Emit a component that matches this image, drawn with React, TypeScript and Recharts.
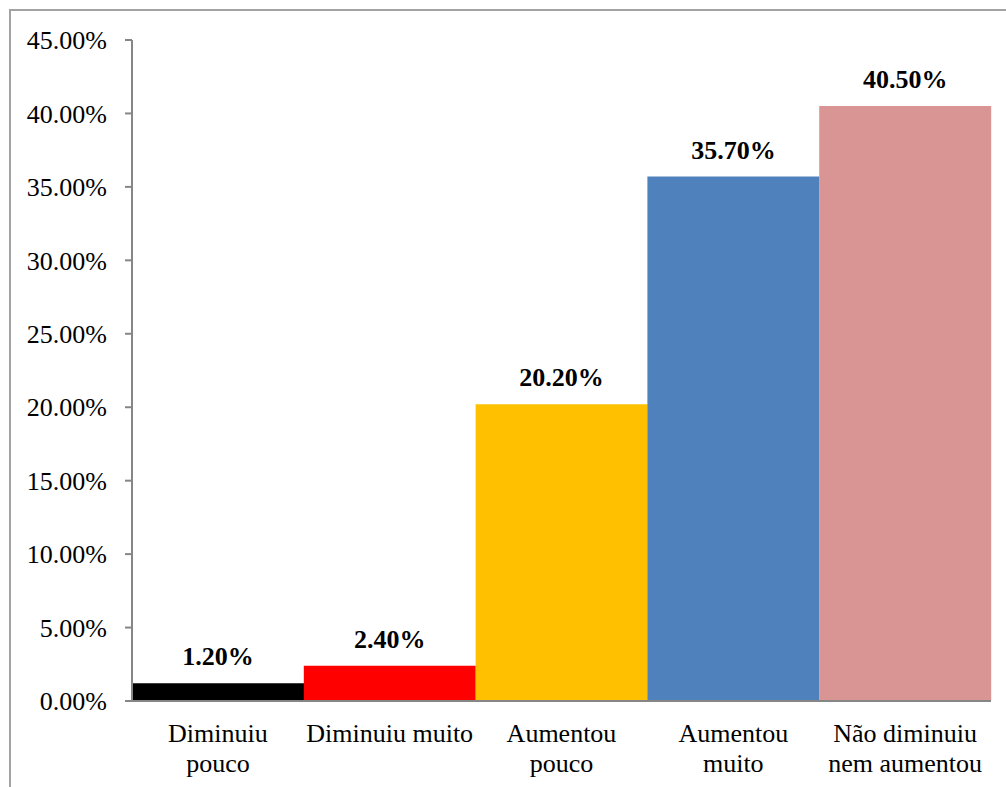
import React from 'react';
import { BarChart, Bar, XAxis, YAxis, Cell, LabelList } from 'recharts';

const categories = ['Diminuiu pouco', 'Diminuiu muito', 'Aumentou pouco', 'Aumentou muito', 'Não diminuiu nem aumentou'];
const categoryLines: string[][] = [
  ['Diminuiu', 'pouco'],
  ['Diminuiu muito'],
  ['Aumentou', 'pouco'],
  ['Aumentou', 'muito'],
  ['Não diminuiu', 'nem aumentou'],
];
const values = [1.2, 2.4, 20.2, 35.7, 40.5];
const colors = ['#000000', '#FF0000', '#FFC000', '#4F81BD', '#D99594'];
const yTicks = [0, 5, 10, 15, 20, 25, 30, 35, 40, 45];

const data = categories.map((c, i) => ({ name: c, lines: categoryLines[i], value: values[i] }));

const FONT = '"Liberation Serif", "Times New Roman", serif';
const fmt = (v: number) => `${Number(v).toFixed(2)}%`;

const CategoryTick = (props: any) => {
  const { x, y, index } = props;
  const lines = categoryLines[index] || [];
  return (
    <text x={x} y={y} textAnchor="middle" fontFamily={FONT} fontSize={26} fill="#000">
      {lines.map((l, i) => (
        <tspan key={i} x={x} y={y + 41 + i * 30}>
          {l}
        </tspan>
      ))}
    </text>
  );
};

export default function App() {
  return (
    <div style={{ position: 'absolute', left: 0, top: 0, width: 1006, height: 787, overflow: 'hidden', background: '#fff' }}>
      <div
        style={{
          position: 'absolute',
          left: 9,
          top: 9,
          width: 1100,
          height: 900,
          borderLeft: '2px solid #a3a3a3',
          borderTop: '2px solid #a3a3a3',
        }}
      />
      <div style={{ position: 'absolute', left: 0, top: 0 }}>
        <BarChart width={1006} height={787} data={data} margin={{ top: 40, right: 15, left: 0, bottom: 26 }} barCategoryGap={0}>
          <XAxis
            dataKey="name"
            tickLine={false}
            tickSize={0}
            tickMargin={0}
            height={60}
            axisLine={{ stroke: '#868686', strokeWidth: 2 }}
            tick={<CategoryTick />}
            interval={0}
          />
          <YAxis
            width={132}
            domain={[0, 45]}
            ticks={yTicks}
            interval={0}
            tickFormatter={fmt}
            tickSize={7}
            tickMargin={18}
            axisLine={{ stroke: '#868686', strokeWidth: 2 }}
            tickLine={{ stroke: '#868686', strokeWidth: 2 }}
            tick={{ fontFamily: FONT, fontSize: 26, fill: '#000' }}
          />
          <Bar dataKey="value" isAnimationActive={false}>
            {data.map((d, i) => (
              <Cell key={d.name} fill={colors[i]} />
            ))}
            <LabelList
              dataKey="value"
              position="top"
              offset={18}
              formatter={(v: any) => fmt(v)}
              style={{ fontFamily: FONT, fontSize: 26, fontWeight: 'bold', fill: '#000' }}
            />
          </Bar>
        </BarChart>
      </div>
    </div>
  );
}
